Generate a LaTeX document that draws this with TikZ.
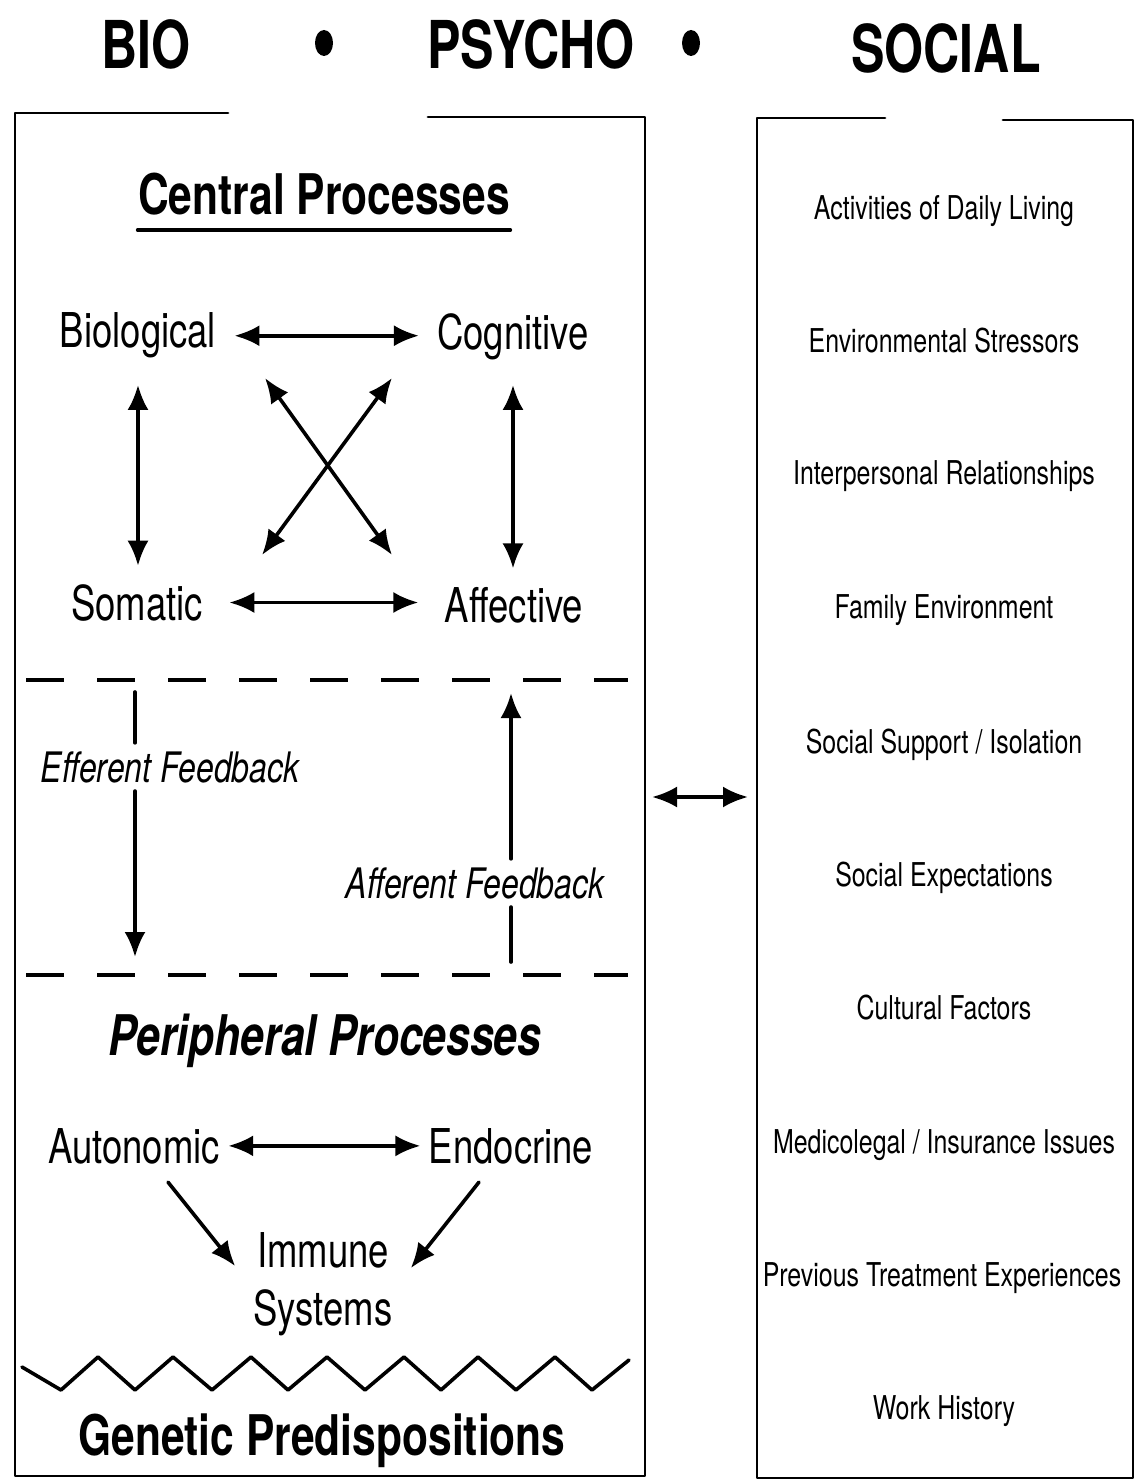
\documentclass[tikz,border=0pt]{standalone}
\usepackage{fontspec}
\usetikzlibrary{arrows.meta}
\newfontfamily\cond{TeX Gyre Heros}[FakeStretch=0.76]

\begin{document}
\begin{tikzpicture}[line cap=round,line join=round,>={Latex[length=12.5pt,width=10.5pt]},x=0.5pt,y=-0.5pt,
  head/.style={font=\cond\bfseries\fontsize{33}{36}\selectfont,inner sep=0pt,anchor=base},
  title/.style={font=\cond\bfseries\fontsize{28}{32}\selectfont,inner sep=0pt,anchor=base},
  lab/.style={font=\cond\fontsize{24}{29}\selectfont,inner sep=9pt,anchor=base},
  fb/.style={font=\cond\itshape\fontsize{21}{24}\selectfont,inner sep=4pt,anchor=base},
  item/.style={font=\cond\fontsize{16.4}{19}\selectfont,inner sep=0pt,anchor=base},
  box/.style={line width=1.4pt},
  arr/.style={->,line width=1.8pt},
  link/.style={<->,line width=1.8pt},
  dashline/.style={line width=2.2pt,line cap=butt,dash pattern=on 19pt off 16.5pt}]
\useasboundingbox (0,0) rectangle (1136,1481);
% heading
\node [head] (bio) at (146,69) {BIO};
\node [head] (psy) at (531,69) {PSYCHO};
\node [head] (soc) at (946,73) {SOCIAL};
\fill (324,43) ellipse [x radius=9, y radius=13];
\fill (691,43) ellipse [x radius=9, y radius=13];
% the two frames
\draw [box] (228,113)--(15,113)--(15,1476)--(645,1476)--(645,117)--(428,117);
\draw [box] (885,118)--(757,118)--(757,1478)--(1133,1478)--(1133,120)--(1003,120);
% central processes
\node [title] (cent) at (324,215) {Central Processes};
\draw [line width=2pt] ([yshift=-7pt]cent.south west)--([yshift=-7pt]cent.south east);
\node [lab] (biol) at (138,348) {Biological};
\node [lab] (cogn) at (513,350) {Cognitive};
\node [lab] (soma) at (137,620) {Somatic};
\node [lab] (affe) at (514,622) {Affective};
\draw [link] (biol.east)--(cogn.west |- biol.east);
\draw [link,shorten <=4pt,shorten >=4pt] (soma.east)--(affe.west |- soma.east);
\draw [link,shorten <=4pt] (biol.south)--(biol.south |- soma.north);
\draw [link,shorten <=3pt] (cogn.south)--(cogn.south |- affe.north);
\coordinate (xul) at (265,378);
\coordinate (xlr) at (392,555);
\coordinate (xur) at (392,378);
\coordinate (xll) at (262,555);
\draw [link] (xul)--(xlr);
\draw [link] (xur)--(xll);
% feedback band
\draw [dashline] (26,680)--(628,680);
\draw [dashline] (26,975)--(628,975);
\coordinate (efftop) at (135,692);
\coordinate (effbot) at (135,957);
\coordinate (afftop) at (511,693);
\coordinate (affbot) at (511,962);
\node [fb] (effe) at (170,782) {Efferent Feedback};
\node [fb] (affb) at (475,898) {Afferent Feedback};
\draw [line width=1.8pt] (efftop)--(efftop |- effe.north);
\draw [arr] (effbot |- effe.south)--(effbot);
\draw [line width=1.8pt] (affbot)--(affbot |- affb.south);
\draw [arr] (afftop |- affb.north)--(afftop);
% peripheral processes
\node [title,font=\cond\bfseries\itshape\fontsize{28}{32}\selectfont] (peri) at (325,1055) {Peripheral Processes};
\node [lab,inner xsep=4pt] (auto) at (134,1163) {Autonomic};
\node [lab,inner xsep=4pt] (endo) at (511,1163) {Endocrine};
\node [lab,align=center,anchor=north] (immu) at (323,1214) {Immune\\Systems};
\draw [link] (auto.east)--(endo.west |- auto.east);
\draw [arr] ([xshift=17pt]auto.south)--([yshift=9pt]immu.west);
\draw [arr] ([xshift=-16pt]endo.south)--([yshift=8pt]immu.east);
\draw [line width=1.8pt] (22,1367)--(61,1390)--(98,1357)--(135,1390)--(173,1357)--(212,1390)--(251,1357)--(288,1390)--(327,1357)--(365,1390)--(404,1357)--(441,1390)--(478,1357)--(516,1390)--(555,1357)--(592,1390)--(629,1360);
\node [title] (gene) at (322,1455) {Genetic Predispositions};
% social side
\node [item] (adl) at (944,220) {Activities of Daily Living};
\node [item] (env) at (944,352) {Environmental Stressors};
\node [item] (rel) at (944,484) {Interpersonal Relationships};
\node [item] (fam) at (944,618) {Family Environment};
\node [item] (sup) at (944,753) {Social Support / Isolation};
\node [item] (exp) at (944,886) {Social Expectations};
\node [item] (cul) at (944,1019) {Cultural Factors};
\node [item] (leg) at (944,1153) {Medicolegal / Insurance Issues};
\node [item] (prev) at (942,1286) {Previous Treatment Experiences};
\node [item] (work) at (944,1419) {Work History};
\coordinate (lside) at (645,797);
\coordinate (rside) at (757,797);
\draw [link,shorten <=3.5pt,shorten >=4.5pt] (lside)--(rside);
\end{tikzpicture}
\end{document}
